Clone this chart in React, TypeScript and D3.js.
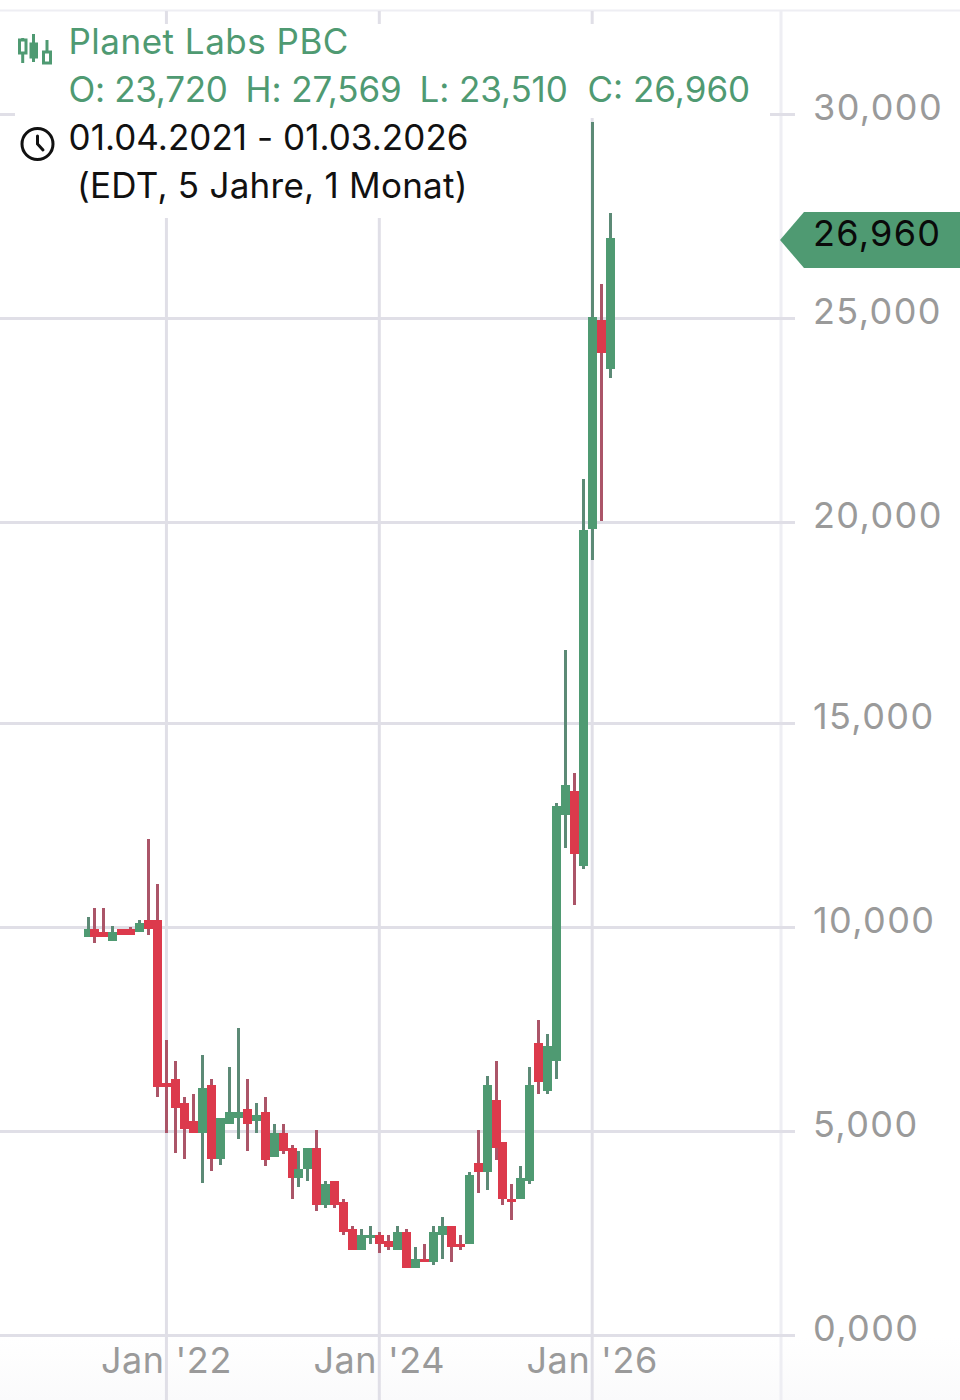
import React from "react";
import * as d3 from "d3";

const W = 960, H = 1400;
const GREEN = "#4f9a72", GREEN_WICK = "#5c8a76", RED = "#dc3a4c", RED_WICK = "#ab5568";
const GRID = "#e0dfe7", AXIS = "#eeeef3", LABEL = "#9a9a9a";

const opens = [9.76,9.96,9.89,9.66,9.96,9.96,9.89,10.18,10.18,6.17,6.27,5.68,5.24,4.94,6.12,4.30,5.16,5.31,5.53,5.24,5.46,4.35,4.94,4.57,3.84,4.06,4.57,3.17,3.76,3.25,2.58,2.07,2.36,2.43,2.29,2.07,2.51,1.62,1.84,1.77,2.43,2.66,2.21,2.21,4.20,3.98,5.75,4.72,3.32,3.32,3.76,7.16,5.98,6.71,12.76,13.35,11.51,19.80,24.93,23.72];
const highs = [10.25,10.48,10.48,10.03,9.96,10.01,10.18,12.17,11.07,7.23,6.71,5.83,5.90,6.86,6.27,5.31,6.57,7.52,6.27,5.68,5.83,5.16,5.16,4.65,4.50,4.57,5.02,3.76,3.76,3.32,2.66,2.58,2.66,2.51,2.43,2.66,2.58,2.14,2.21,2.66,2.88,2.66,2.43,3.98,5.02,6.34,6.71,4.72,3.69,4.13,6.57,7.72,7.38,13.06,16.82,13.80,21.02,29.80,25.82,27.569];
const lows = [9.76,9.61,9.76,9.66,9.81,9.81,9.89,9.81,5.83,4.94,4.45,4.30,4.94,3.71,4.01,4.16,5.16,4.80,4.50,4.94,4.13,4.35,4.43,3.32,3.61,3.76,3.02,3.10,3.10,2.43,2.07,2.07,2.21,1.99,2.07,2.07,1.62,1.62,1.77,1.70,1.84,1.77,2.07,2.21,3.47,3.54,4.28,3.17,2.80,3.32,3.69,5.90,5.90,6.27,11.95,10.55,11.43,19.03,19.99,23.51];
const closes = [9.96,9.76,9.76,9.89,9.81,9.81,10.11,9.96,6.07,6.07,5.56,5.04,4.94,6.05,4.30,5.31,5.46,5.46,5.16,5.39,4.28,4.94,4.50,3.84,4.06,4.57,3.17,3.69,3.17,2.51,2.07,2.43,2.43,2.21,2.14,2.51,1.62,1.84,1.77,2.51,2.66,2.14,2.14,3.91,3.98,6.12,4.57,3.32,3.25,3.84,6.12,6.20,7.08,12.98,13.50,11.80,19.77,25.01,24.12,26.96];

const yTicks = [0, 5, 10, 15, 20, 25, 30];
const yTickLabels = ["0,000", "5,000", "10,000", "15,000", "20,000", "25,000", "30,000"];
const xTickMonths = [9, 33, 57];
const xTickLabels = ["Jan '22", "Jan '24", "Jan '26"];

const lastLabel = "26,960";
const titleLabel = "Planet Labs PBC";
const ohlcLabels = ["O: 23,720", "H: 27,569", "L: 23,510", "C: 26,960"];
const rangeLabel = "01.04.2021 - 01.03.2026";
const rangeLabel2 = "(EDT, 5 Jahre, 1 Monat)";

const FONT = "Inter, 'Noto Sans', sans-serif";

export default function App() {
  const y = d3.scaleLinear().domain([0, 30]).range([1334, 114]);
  const x = d3.scaleLinear().domain([0, 59]).range([86.6, 609.93]);
  // the source image is an upscaled capture: marks sit on a 3px lattice
  const snap = (v: number) => 3 * Math.round((v - 1) / 3) + 1;
  const snapY = (v: number) => 3 * Math.round(v / 3) + 0.5;
  const bodyW = 9, wickW = 3;
  const tagTop = 212, tagBottom = 268;
  const tag = d3.line()([[780, 240], [804, tagTop], [960, tagTop], [960, tagBottom], [804, tagBottom]]) + "Z";

  return (
    <svg width={W} height={H} viewBox={`0 0 ${W} ${H}`} style={{ position: "absolute", left: 0, top: 0, background: "#fff" }} fontFamily={FONT}>
      <defs>
        <linearGradient id="fade" x1="0" x2="0" y1="0" y2="1">
          <stop offset="0" stopColor="#fff" />
          <stop offset="1" stopColor="#fafafb" />
        </linearGradient>
      </defs>
      <rect x={0} y={1338} width={W} height={62} fill="url(#fade)" />
      <line x1={0} x2={W} y1={10.5} y2={10.5} stroke={AXIS} strokeWidth={2} />
      <line x1={781} x2={781} y1={11} y2={H} stroke={AXIS} strokeWidth={3} />
      {xTickMonths.map((m) => (
        <line key={m} x1={x(m)} x2={x(m)} y1={11} y2={H} stroke={GRID} strokeWidth={3} />
      ))}
      {yTicks.map((t) => (
        <line key={t} x1={0} x2={795} y1={snapY(y(t))} y2={snapY(y(t))} stroke={GRID} strokeWidth={3} />
      ))}
      {/* legend backdrop */}
      <rect x={15} y={24} width={755} height={94} fill="#fff" />
      <rect x={15} y={118} width={465} height={100} fill="#fff" />

      {opens.map((_, i) => {
        const up = closes[i] >= opens[i];
        const cx = snap(x(i));
        const top = y(Math.max(opens[i], closes[i]));
        const bot = y(Math.min(opens[i], closes[i]));
        return (
          <g key={i} shapeRendering="crispEdges">
            <rect x={cx - 1} y={y(highs[i])} width={wickW} height={y(lows[i]) - y(highs[i])} fill={up ? GREEN_WICK : RED_WICK} />
            <rect x={cx - 4} y={top} width={bodyW} height={Math.max(bot - top, 3)} fill={up ? GREEN : RED} />
          </g>
        );
      })}

      {yTicks.map((t, i) => (
        <text key={t} x={813} y={snapY(y(t)) - 4.5} dominantBaseline="middle" fontSize={36} letterSpacing={1.4} fill={LABEL}>{yTickLabels[i]}</text>
      ))}
      {xTickMonths.map((m, i) => (
        <text key={m} x={x(m)} y={1373} textAnchor="middle" fontSize={36} letterSpacing={0.6} fill={LABEL}>{xTickLabels[i]}</text>
      ))}

      <path d={tag} fill={GREEN} />
      <text x={813} y={246} fontSize={36} letterSpacing={1.3} fill="#0a0a0a">{lastLabel}</text>

      <text x={68.5} y={54} fontSize={35} letterSpacing={0.5} fill={GREEN}>{titleLabel}</text>
      <text x={68.5} y={102} fontSize={35} letterSpacing={-0.3} fill={GREEN}>{ohlcLabels[0]}</text>
      <text x={245.5} y={102} fontSize={35} letterSpacing={-0.1} fill={GREEN}>{ohlcLabels[1]}</text>
      <text x={419.5} y={102} fontSize={35} letterSpacing={-0.1} fill={GREEN}>{ohlcLabels[2]}</text>
      <text x={587.5} y={102} fontSize={35} fill={GREEN}>{ohlcLabels[3]}</text>
      <text x={68.5} y={150} fontSize={35} letterSpacing={0.05} fill="#111">{rangeLabel}</text>
      <text x={77} y={198} fontSize={35} letterSpacing={0.25} fill="#111">{rangeLabel2}</text>

      {/* candlestick icon */}
      <g stroke={GREEN} strokeWidth={3} fill="none">
        <line x1={22.7} x2={22.7} y1={38} y2={63} />
        <rect x={19.5} y={40} width={6.5} height={13} fill="#fff" />
        <line x1={33.5} x2={33.5} y1={34} y2={62} />
        <rect x={31} y={44} width={5.5} height={13} fill={GREEN} />
        <line x1={47} x2={47} y1={40} y2={52} />
        <rect x={43.5} y={52} width={7} height={11} fill="#fff" />
      </g>
      {/* clock icon */}
      <g stroke="#111" strokeWidth={3} fill="none">
        <circle cx={37.5} cy={144} r={15.5} />
        <path d="M37.5 136 L37.5 144 L43 150" strokeLinecap="round" />
      </g>
    </svg>
  );
}
